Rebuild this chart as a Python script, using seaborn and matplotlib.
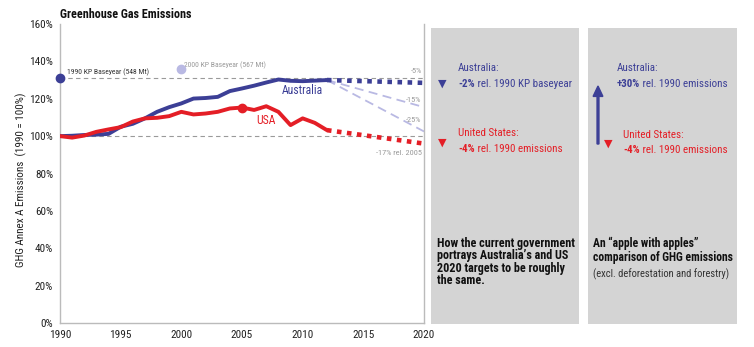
import matplotlib
matplotlib.use("Agg")
import matplotlib.pyplot as plt
import seaborn as sns
import pandas as pd
from matplotlib import font_manager as fm
from matplotlib.patches import Rectangle, FancyArrow

sns.set_theme(style="white")

# ---- pick a condensed font if one is available ----
entries = fm.fontManager.ttflist
fam, stretch = None, 'normal'
for pref in ['Roboto Condensed', 'Open Sans Condensed', 'Liberation Sans Narrow', 'Noto Sans Condensed']:
    if any(e.name == pref for e in entries):
        fam = pref
        break
if fam is None:
    for base in ['Noto Sans', 'Open Sans', 'Roboto', 'DejaVu Sans']:
        if any(e.name == base and str(e.stretch) in ('condensed', 'semi-condensed', 'extra-condensed')
               for e in entries):
            fam, stretch = base, 'condensed'
            break
if fam is None:
    fam = 'Liberation Sans' if any(e.name == 'Liberation Sans' for e in entries) else 'DejaVu Sans'
plt.rcParams['font.family'] = [fam, 'DejaVu Sans']
plt.rcParams['font.stretch'] = stretch

# ---- data ----
years = list(range(1990, 2013))
australia = [100, 100.2, 100.6, 100.8, 101.2, 105, 106.6, 109.5, 113, 115.5, 117.5, 120.1, 120.4,
             121.0, 124.1, 125.5, 127.0, 128.7, 130.3, 129.6, 129.4, 129.7, 130.0]
usa = [100, 99.2, 100.3, 102.3, 103.6, 104.8, 107.8, 109.5, 109.8, 110.7, 113.0, 111.6, 112.1,
       113.0, 114.8, 115.3, 114.0, 116.0, 113.0, 105.9, 109.5, 107.1, 103.2]

proj_years = [2012, 2020]
aus_proj = [130.0, 128.5]
usa_proj = [103.2, 96.0]
target_15 = [130.0, 115.5]
target_25 = [130.0, 102.5]
baseyear_1990 = 131.2
baseyear_2000 = 135.7

yticks = [0, 20, 40, 60, 80, 100, 120, 140, 160]
xticks = [1990, 1995, 2000, 2005, 2010, 2015, 2020]

BLUE = '#3c3f96'
RED = '#e41e26'
LAV = '#b9b9e3'
GRAY = '#9a9a9a'
BOX = '#d4d4d4'

df = pd.DataFrame({'year': years * 2,
                   'value': australia + usa,
                   'country': ['Australia'] * len(years) + ['USA'] * len(years)})

W, H = 754, 347
fig = plt.figure(figsize=(W / 100, H / 100), dpi=100)
renderer = fig.canvas.get_renderer()


def measure(s, size, weight='normal'):
    t = fig.text(0, 0, s, fontsize=size, fontweight=weight)
    w = t.get_window_extent(renderer).width
    t.remove()
    return w


def fit(s, target_w, max_size, weight='normal'):
    w = measure(s, max_size, weight)
    return min(max_size, max_size * target_w / w)


def px(x, y):
    return x / W, 1 - y / H


def runs(x, y, parts, target_w, max_size, color, **kw):
    full = sum(measure(s, max_size, wt) for s, wt in parts)
    size = min(max_size, max_size * target_w / full)
    cx = x
    for s, wt in parts:
        fig.text(cx / W, 1 - y / H, s, fontsize=size, fontweight=wt, color=color, va='center', **kw)
        cx += measure(s, size, wt)


ax = fig.add_axes([60 / W, 1 - 323 / H, (424 - 60) / W, (323 - 24) / H])

# reference lines
ax.plot([1990, 2020], [100, 100], color=GRAY, lw=0.8, ls=(0, (4, 3)), zorder=1)
ax.plot([1990, 2020], [baseyear_1990, baseyear_1990], color=GRAY, lw=0.8, ls=(0, (4, 3)), zorder=1)

# target fan lines
ax.plot(proj_years, target_15, color=LAV, lw=1.3, ls=(0, (5, 3)), zorder=1)
ax.plot(proj_years, target_25, color=LAV, lw=1.3, ls=(0, (5, 3)), zorder=1)

sns.lineplot(data=df, x='year', y='value', hue='country', palette={'Australia': BLUE, 'USA': RED},
             lw=2.8, legend=False, ax=ax, zorder=3)

ax.plot(proj_years, aus_proj, color=BLUE, lw=3.3, ls=(0, (1, 1.2)), zorder=3)
ax.plot(proj_years, usa_proj, color=RED, lw=3.3, ls=(0, (1, 1.2)), zorder=3)

# markers
ax.plot([1990], [baseyear_1990], 'o', color=BLUE, ms=6, clip_on=False, zorder=4)
ax.plot([2000], [baseyear_2000], 'o', color=LAV, ms=6, zorder=4)
ax.plot([2005], [usa[years.index(2005)]], 'o', color=RED, ms=6, zorder=4)

# annotations in the chart
small = fit('1990 KP Baseyear (548 Mt)', 82, 7.5)
ax.text(1990.55, 134.3, '1990 KP Baseyear (548 Mt)', fontsize=small, color='#333333', va='center')
ax.text(2000.25, 137.8, '2000 KP Baseyear (567 Mt)', fontsize=small, color=GRAY, va='center')
lab = fit('Australia', 41, 11)
ax.text(2010.0, 124.3, 'Australia', fontsize=lab, color=BLUE, ha='center', va='center')
ax.text(2006.95, 108.5, 'USA', fontsize=lab, color=RED, ha='center', va='center')
tiny = fit('-17% rel. 2005', 46, 7.5)
ax.text(2019.8, 134.6, '-5%', fontsize=tiny, color=GRAY, ha='right', va='center')
ax.text(2019.8, 119.2, '-15%', fontsize=tiny, color=GRAY, ha='right', va='center')
ax.text(2019.8, 108.8, '-25%', fontsize=tiny, color=GRAY, ha='right', va='center')
ax.text(2019.8, 91.0, '-17% rel. 2005', fontsize=tiny, color=GRAY, ha='right', va='center')

tick_size = fit('1990', 22, 11)
ax.set_xlim(1990, 2020)
ax.set_ylim(0, 160)
ax.set_xticks(xticks)
ax.set_xticks(range(1990, 2021), minor=True)
ax.set_yticks(yticks)
ax.set_yticklabels([f'{v}%' for v in yticks])
ax.set_xticklabels([str(v) for v in xticks])
ax.tick_params(axis='both', labelsize=tick_size, colors='#222222')
ax.tick_params(axis='x', which='major', length=3, color='#bbbbbb', direction='out', pad=2)
ax.tick_params(axis='x', which='minor', length=2, color='#bbbbbb', direction='out')
ax.tick_params(axis='y', length=3, color='#bbbbbb', direction='in', pad=5)
for s in ['left', 'bottom', 'right']:
    ax.spines[s].set_color('#bbbbbb')
    ax.spines[s].set_linewidth(1)
ax.spines['top'].set_visible(False)
ax.set_xlabel('')
ylab = 'GHG Annex A Emissions  (1990 = 100%)'
ax.set_ylabel(ylab, fontsize=fit(ylab, 175, 10.5), color='#222222', va='center')
ax.yaxis.set_label_coords((21 - 60) / 364, (323 - 180) / 299)
ax.grid(False)

title = 'Greenhouse Gas Emissions'
fig.text(*px(60, 14), title, fontsize=fit(title, 132, 10.5), fontweight='bold',
         color='#111111', va='center', ha='left')

# ---- right panels ----
for x0, x1 in [(431, 579), (588, 737)]:
    fig.patches.append(Rectangle((x0 / W, 1 - 324 / H), (x1 - x0) / W, (324 - 28) / H,
                                 transform=fig.transFigure, facecolor=BOX, edgecolor='none'))

ps = fit('United States:', 60, 10)

# panel 1
fig.text(*px(458, 68), 'Australia:', color=BLUE, fontsize=ps, va='center')
runs(458, 84, [('-2%', 'bold'), (' rel. 1990 KP baseyear', 'normal')], 115, ps, BLUE)
fig.text(*px(442, 84), '\u25BC', color=BLUE, fontsize=8, va='center', ha='center', family='DejaVu Sans')
fig.text(*px(458, 133), 'United States:', color=RED, fontsize=ps, va='center')
runs(458, 149, [('-4%', 'bold'), (' rel. 1990 emissions', 'normal')], 104, ps, RED)
fig.text(*px(442, 143), '\u25BC', color=RED, fontsize=8, va='center', ha='center', family='DejaVu Sans')

lines1 = ['How the current government', 'portrays Australia\u2019s and US',
          '2020 targets to be roughly', 'the same.']
bsz = fit(lines1[0], 139, 10.5, 'bold')
for i, s in enumerate(lines1):
    fig.text(*px(437, 243 + i * 12.6), s, color='#111111', fontsize=bsz, fontweight='bold', va='center')

# panel 2
fig.text(*px(617, 68), 'Australia:', color=BLUE, fontsize=ps, va='center')
runs(617, 84, [('+30%', 'bold'), (' rel. 1990 emissions', 'normal')], 116, ps, BLUE)
fig.patches.append(FancyArrow(598 / W, 1 - 144 / H, 0, (144 - 86) / H, width=0.0025,
                              head_width=0.013, head_length=0.03, length_includes_head=True,
                              transform=fig.transFigure, color=BLUE))
fig.text(*px(608, 144), '\u25BC', color=RED, fontsize=8, va='center', ha='center', family='DejaVu Sans')
fig.text(*px(623, 135), 'United States:', color=RED, fontsize=ps, va='center')
runs(623, 150, [('-4%', 'bold'), (' rel. 1990 emissions', 'normal')], 104, ps, RED)

lines2 = ['An \u201capple with apples\u201d', 'comparison of GHG emissions']
bsz2 = fit(lines2[1], 140, 10.5, 'bold')
for i, s in enumerate(lines2):
    fig.text(*px(593, 243 + i * 14.5), s, color='#111111', fontsize=bsz2, fontweight='bold', va='center')
fig.text(*px(593, 274), '(excl. deforestation and forestry)', color='#333333',
         fontsize=fit('(excl. deforestation and forestry)', 138, 10.5), va='center')

fig.savefig('out.png', dpi=100)
